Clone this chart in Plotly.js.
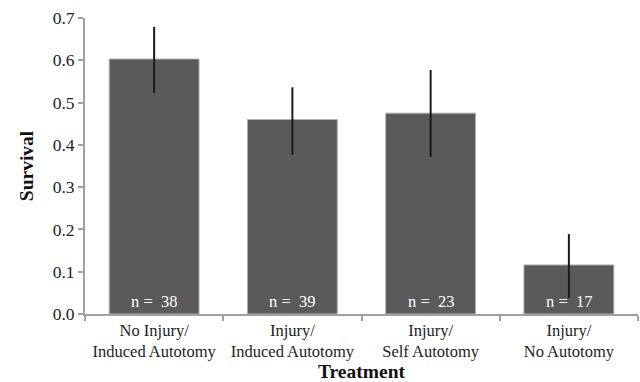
<!DOCTYPE html>
<html><head><meta charset="utf-8">
<script src="https://cdn.plot.ly/plotly-3.0.1.min.js"></script>
<style>html,body{margin:0;padding:0;background:#fff}#chart{width:640px;height:382px}</style>
</head><body><div id="chart"></div>
<script>
const categories = ["No Injury/<br>Induced Autotomy", "Injury/<br>Induced Autotomy", "Injury/<br>Self Autotomy", "Injury/<br>No Autotomy"];
const survival = [0.603, 0.460, 0.475, 0.116];
const errPlus = [0.076, 0.076, 0.102, 0.073];
const errMinus = [0.080, 0.084, 0.104, 0.078];
const sampleSizes = ["n =  38", "n =  39", "n =  23", "n =  17"];

const font = "Liberation Serif, Times New Roman, serif";
const trace = {
  type: 'bar', x: categories, y: survival,
  marker: {color: '#5a5a5a', line: {color: '#b0b0b0', width: 1}},
  error_y: {type: 'data', symmetric: false, array: errPlus, arrayminus: errMinus, color: '#1a1a1a', thickness: 2, width: 0},
  hoverinfo: 'skip'
};
const annotations = categories.map((c, i) => ({
  x: c, y: 0, xref: 'x', yref: 'y', yanchor: 'bottom', yshift: 1,
  text: sampleSizes[i], showarrow: false,
  font: {family: font, size: 16.5, color: '#ffffff'}
}));
const layout = {
  width: 640, height: 382,
  margin: {l: 85, r: 2, t: 18, b: 68},
  paper_bgcolor: '#fff', plot_bgcolor: '#fff',
  bargap: 0.35, showlegend: false,
  font: {family: font, color: '#222'},
  xaxis: {
    showline: true, linecolor: '#a0a0a0', linewidth: 2,
    ticks: 'outside', tickson: 'boundaries', ticklen: 5, tickcolor: '#a0a0a0', tickwidth: 2,
    tickfont: {family: font, size: 16.5, color: '#222'},
    title: {text: '<b>Treatment</b>', font: {family: font, size: 19.5, color: '#111'}, standoff: 5},
    showgrid: false, zeroline: false
  },
  yaxis: {
    range: [0, 0.7], dtick: 0.1, tickformat: '.1f',
    showline: true, linecolor: '#a0a0a0', linewidth: 2,
    ticks: 'outside', ticklen: 5, tickcolor: '#a0a0a0', tickwidth: 2,
    tickfont: {family: font, size: 17.5, color: '#222'},
    title: {text: '<b>Survival</b>', font: {family: font, size: 19.5, color: '#111'}, standoff: 14},
    showgrid: false, zeroline: false
  },
  annotations: annotations
};
Plotly.newPlot('chart', [trace], layout, {displayModeBar: false, staticPlot: true});
</script></body></html>
